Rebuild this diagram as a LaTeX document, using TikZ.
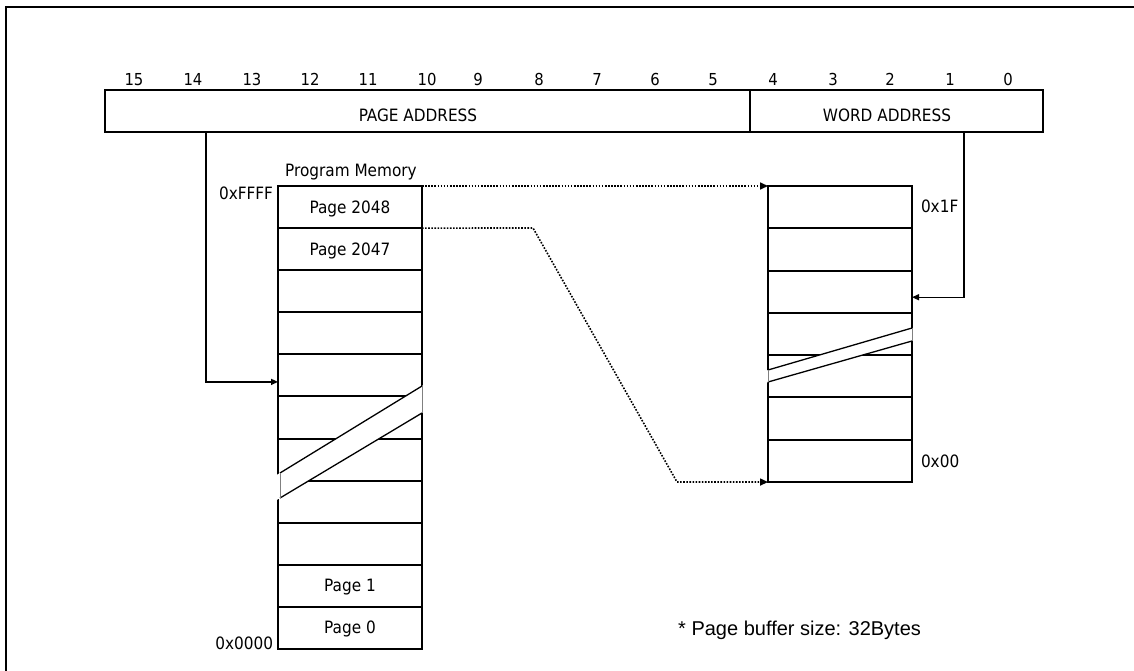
\documentclass[tikz,border=0pt]{standalone}
\usepackage{fontspec}
\setmainfont{DejaVu Sans Condensed}
\newfontfamily\notefont{Liberation Sans}
\usetikzlibrary{arrows.meta,calc}
\begin{document}
\begin{tikzpicture}[x=1pt,y=-1pt,
  lbl/.style={inner sep=0pt, outer sep=0pt, font=\fontsize{17}{19}\selectfont},
  bitnum/.style={inner sep=0pt, anchor=base, font=\fontsize{16.5}{18}\selectfont},
  field/.style={draw, line width=2pt, inner sep=0pt, outer sep=0pt, minimum height=42pt},
  mcell/.style={draw, line width=2pt, inner sep=0pt, outer sep=0pt, minimum width=144pt,
     minimum height=42.09pt, text height=12pt, text depth=0pt, font=\fontsize{17}{19}\selectfont},
  bcell/.style={draw, line width=2pt, inner sep=0pt, outer sep=0pt, minimum width=144pt,
     minimum height=42.29pt},
  border/.style={line width=2.5pt},
  solidarrow/.style={line width=1.4pt, -{Triangle[length=7pt,width=6pt]}},
  dotarrow/.style={line width=1.6pt, dash pattern=on 1.6pt off 1.5pt, -{Triangle[length=8pt,width=7pt]}},
  bandedge/.style={line width=1.3pt},
  bandside/.style={line width=0.6pt, gray}]
\useasboundingbox (0,0) rectangle (1134,671);
% outer frame
\draw[line width=2pt] (6,671) -- (6,7) -- (1134,7);

% register
\node[field, minimum width=645pt] (pagefield) at (427.5,111) {};
\node[field, minimum width=293pt] (wordfield) at (896.5,111) {};
\node[lbl, anchor=base] (pagelbl) at (418,122) {PAGE ADDRESS};
\node[lbl, anchor=base] (wordlbl) at (887,122) {WORD ADDRESS};
\foreach \n/\x in {15/134,14/193,13/252,12/310,11/368,10/427,9/478,8/539,7/597,6/655,5/713,4/773,3/833,2/890,1/950,0/1008}
  \node[bitnum] (bit\n) at (\x,86) {\n};

% program memory
\foreach \i/\t in {1/Page 2048,2/Page 2047,3/,4/,5/,6/,7/,8/,9/,10/Page 1,11/Page 0} {
  \pgfmathsetmacro{\cy}{186+42.09*(\i-0.5)}
  \node[mcell] (m\i) at (350,\cy) {\t};
}
\draw[border] (m1.north west) -- (m11.south west);
\draw[border] (m1.north east) -- (m11.south east);
\node[lbl, anchor=base] (pmlbl) at (351,177) {Program Memory};
\node[lbl, anchor=base east] (hiaddr) at (273,200) {0xFFFF};
\node[lbl, anchor=base east] (loaddr) at (273,649) {0x0000};

% left break band
\fill[white] (276,475.4) -- (425,384.1) -- (425,411.2) -- (276,500.4) -- cycle;
\draw[bandedge] (280,473) -- (422,386);
\draw[bandedge] (280,498) -- (422,413);
\draw[bandside] (280,473) -- (280,498);
\draw[bandside] (422,386) -- (422,413);

% page buffer
\foreach \i in {1,...,7} {
  \pgfmathsetmacro{\cy}{186+42.29*(\i-0.5)}
  \node[bcell] (b\i) at (840,\cy) {};
}
\draw[border] (b1.north west) -- (b7.south west);
\draw[border] (b1.north east) -- (b7.south east);
\node[lbl, anchor=base west] (bhi) at (921,212) {0x1F};
\node[lbl, anchor=base west] (blo) at (921,467) {0x00};

% right break band
\fill[white] (765,371) -- (915,327.3) -- (915,340) -- (765,383) -- cycle;
\draw[bandedge] (768,370) -- (912,328);
\draw[bandedge] (768,382) -- (912,341);
\draw[bandside] (768,370) -- (768,382);
\draw[bandside] (912,328) -- (912,341);

% connectors
\coordinate (pa) at (206,132);
\coordinate (wa) at (964,132);
\draw[solidarrow] (pa) |- ($(m5.west)+(0,6.5)$);
\draw[solidarrow] (wa) |- ($(b3.east)+(0,5.5)$);
\draw[dotarrow] (m1.north east) -- (b1.north west);
\draw[dotarrow] (m2.north east) -- (533,228) -- (677,482) -- (b7.south west);

% footnote
\node[inner sep=0pt, anchor=base west, font=\notefont\fontsize{20}{22}\selectfont] (note) at (678,635) {* Page buffer size: 32Bytes};
\end{tikzpicture}
\end{document}
